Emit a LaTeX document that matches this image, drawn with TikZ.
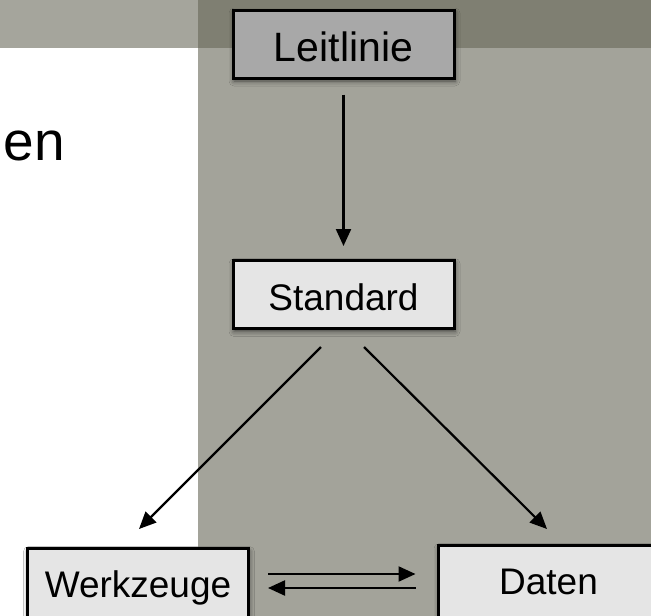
\documentclass[tikz,border=0pt]{standalone}
\usepackage{fontspec}
\setmainfont{Liberation Sans}
\usetikzlibrary{arrows.meta,calc,shadows.blur}
\definecolor{cpanel}{HTML}{A3A39A}
\definecolor{cband}{HTML}{A5A59C}
\definecolor{cbanddark}{HTML}{7F7F72}
\definecolor{cdark}{HTML}{A8A8A8}
\definecolor{clight}{HTML}{E5E5E5}

\begin{document}
\begin{tikzpicture}[x=1pt,y=-1pt,>={Triangle[length=17pt,width=15pt]},
  box node/.style={rectangle,draw,line width=3pt,fill=clight,inner sep=0pt,
    minimum width=221pt,minimum height=68pt,text height=32pt,text depth=0pt,
    font=\fontsize{37}{40}\selectfont,
    blur shadow={shadow xshift=1pt,shadow yshift=-3pt,shadow blur radius=5pt,shadow opacity=60}},
  top node/.style={box node,fill=cdark,text height=35pt,font=\fontsize{41}{44}\selectfont},
  low node/.style={box node,minimum height=80pt,text depth=15pt},
  link/.style={->,line width=2.2pt}]
  \useasboundingbox (0,0) rectangle (651,616);
  \clip (0,0) rectangle (651,616);
  % background
  \fill[white] (0,0) rectangle (651,616);
  \fill[cpanel] (198,48) rectangle (651,616);
  \fill[cband] (0,0) rectangle (198,48);
  \fill[cbanddark] (198,0) rectangle (651,48);
  \node[anchor=base west,font=\fontsize{55}{60}\selectfont] (en) at (0,160) {en};

  \node[top node] (leit) at (343.5,44) {Leitlinie};
  \node[box node] (std) at (343.5,294.5) {Standard};
  \node[low node] (wz) at (138,588.5) {Werkzeuge};
  \node[low node] (dt) at (548.5,585.5) {Daten};

  \path[link]
    (leit) edge[shorten <=15pt,shorten >=13pt] (std)
    ($(std.south)+(-22.5,17)$) edge ($(wz.north)+(1,-18)$)
    ($(std.south)+(20.5,17)$) edge ($(dt.north)+(-1.5,-15)$)
    ($(wz.east)+(18,-14.5)$) edge ($(dt.west)+(-21,-11.5)$)
    ($(dt.west)+(-21,2.5)$) edge ($(wz.east)+(18,-0.5)$);
\end{tikzpicture}
\end{document}
